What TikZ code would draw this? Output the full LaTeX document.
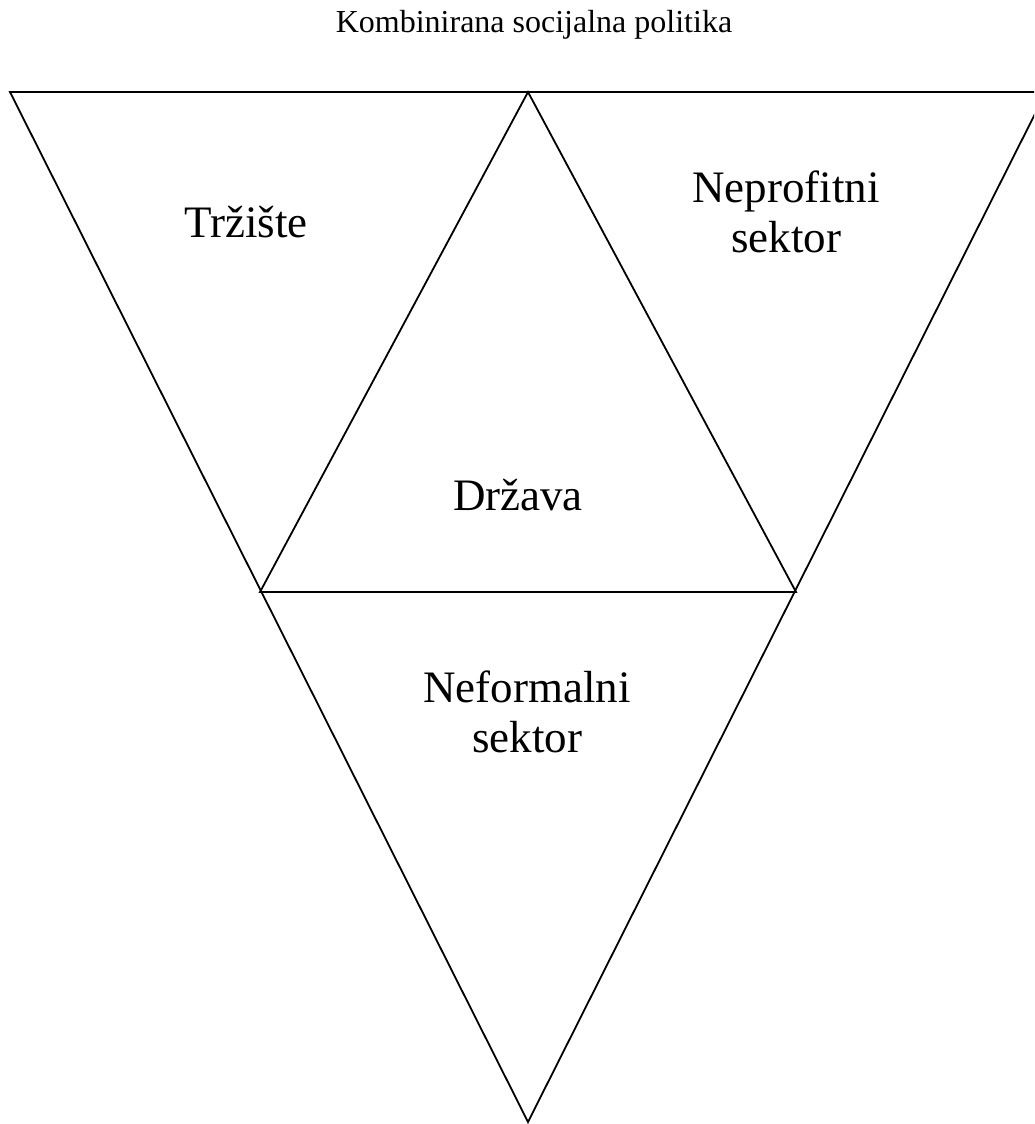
\documentclass[tikz,border=0pt]{standalone}
\usepackage{fontspec}
\setmainfont{Liberation Serif}
\begin{document}
\begin{tikzpicture}[x=1pt,y=-1pt,
  edge/.style={line width=1.8pt, line join=miter},
  lbl/.style={font=\fontsize{45}{50}\selectfont, align=center, anchor=base, inner sep=0pt},
  ttl/.style={font=\fontsize{32}{36}\selectfont, anchor=base, inner sep=0pt}]
\useasboundingbox (0,0) rectangle (1034,1124);
\clip (0,0) rectangle (1034,1124);
\coordinate (L) at (10,92);
\coordinate (R) at (1046,92);
\coordinate (B) at (528,1122);
\coordinate (T) at (528,92);
\coordinate (IL) at (260,592);
\coordinate (IR) at (796,592);
\draw[edge] (L) -- (R) -- (B) -- cycle;
\draw[edge] (T) -- (IL) -- (IR) -- cycle;
\node[ttl] (title) at (534,33) {Kombinirana socijalna politika};
\node[lbl] (trziste) at (246,237) {Tržište};
\node[lbl] (neprofitni) at (786,252) {Neprofitni\\sektor};
\node[lbl] (drzava) at (518,510) {Država};
\node[lbl] (neformalni) at (527,752) {Neformalni\\sektor};
\end{tikzpicture}
\end{document}
